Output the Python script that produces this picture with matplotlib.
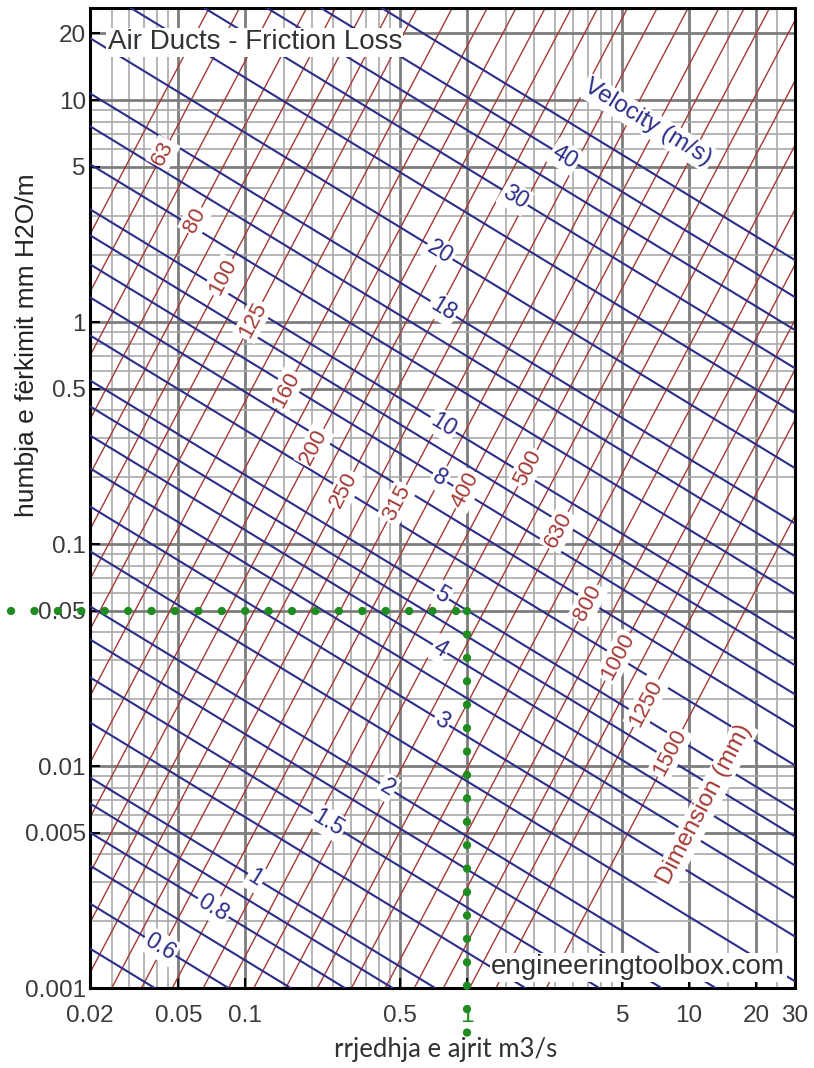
import numpy as np
import matplotlib.pyplot as plt
from matplotlib.ticker import FixedLocator, LogLocator, NullFormatter

plt.rcParams['font.family'] = ['Liberation Sans', 'DejaVu Sans']

# axis ranges (flow m3/s, loss mm H2O/m)
q_lim = (0.02, 30)
h_lim = (0.001, 26)

x_ticks = [0.02, 0.05, 0.1, 0.5, 1, 5, 10, 20, 30]
x_tick_labels = ['0.02', '0.05', '0.1', '0.5', '1', '5', '10', '20', '30']
y_ticks = [0.001, 0.005, 0.01, 0.05, 0.1, 0.5, 1, 5, 10, 20]
y_tick_labels = ['0.001', '0.005', '0.01', '0.05', '0.1', '0.5', '1', '5', '10', '20']

# duct dimension lines (red): flow at which each line crosses 1 mm/m
dim_slope = 1.9
dim_q_at_1 = [0.01239, 0.01698, 0.02404, 0.03404, 0.04592, 0.06209, 0.08147,
              0.1072, 0.1542, 0.2218, 0.2992, 0.4046, 0.5309, 0.6982, 0.9506,
              1.294, 1.782, 2.455, 3.192, 4.150, 5.781, 8.035, 11.43, 16.22,
              21.93, 29.65, 38.90, 51.17, 86.30]
dim_labels = ['63', '80', '100', '125', '160', '200', '250', '315', '400',
              '500', '630', '800', '1000', '1250', '1500']
dim_label_line = [1, 3, 5, 7, 9, 11, 13, 15, 17, 19, 21, 23, 25, 27, 28]
dim_label_h = [5.77, 2.88, 1.596, 1.021, 0.494, 0.2735, 0.175, 0.153, 0.175,
               0.22, 0.1156, 0.0542, 0.031, 0.0192, 0.01146]

# velocity lines (blue): loss at 1 m3/s for each line
vel_slope = -0.61
vel_h_at_1 = [1.384e-4, 2.208e-4, 3.273e-4, 4.613e-4, 6.237e-4, 8.166e-4,
              1.445e-3, 2.307e-3, 3.420e-3, 4.819e-3, 8.531e-3, 0.01358,
              0.02018, 0.02838, 0.03837, 0.05023, 0.08017, 0.1189, 0.1675,
              0.2265, 0.2965, 0.4732, 0.7015, 0.9863, 1.750, 3.097, 4.932,
              7.328, 10.31, 15.14]
vel_labels = ['0.6', '0.8', '1', '1.5', '2', '3', '4', '5', '8', '10', '18',
              '20', '30', '40']
vel_label_line = [1, 3, 5, 7, 9, 11, 13, 15, 18, 20, 23, 24, 26, 28]
vel_label_q = [0.0414, 0.0718, 0.111, 0.2366, 0.4365, 0.77, 0.755, 0.77,
               0.755, 0.78, 0.78, 0.755, 1.644, 2.76]

# example reading (green dotted)
read_q = 1
read_h = 0.05

red = '#a33a36'
blue = '#2b2d88'
green = '#1e8c1e'

fig = plt.figure(figsize=(8.14, 10.68), dpi=100)
ax = fig.add_axes([90 / 814, 80 / 1068, 705 / 814, 980 / 1068])
ax.set_xscale('log')
ax.set_yscale('log')
ax.set_xlim(*q_lim)
ax.set_ylim(*h_lim)

ax.xaxis.set_major_locator(FixedLocator(x_ticks))
ax.xaxis.set_ticklabels(x_tick_labels)
ax.yaxis.set_major_locator(FixedLocator(y_ticks))
ax.yaxis.set_ticklabels(y_tick_labels)
ax.xaxis.set_minor_locator(LogLocator(base=10, subs=np.arange(1, 10) * 0.5, numticks=40))
ax.yaxis.set_minor_locator(LogLocator(base=10, subs=np.arange(1, 10), numticks=40))
ax.xaxis.set_minor_formatter(NullFormatter())
ax.yaxis.set_minor_formatter(NullFormatter())

ax.grid(which='major', color='#7d7d7d', lw=2.0, zorder=0)
ax.grid(which='minor', color='#a9a9a9', lw=1.2, zorder=0)
ax.set_axisbelow(True)
ax.tick_params(which='major', direction='in', length=7, width=1.5,
               labelsize=17.5, labelcolor='#3a3a3a')
ax.tick_params(axis='x', pad=12)
ax.tick_params(axis='y', pad=3)
ax.tick_params(which='minor', length=0)
for s in ax.spines.values():
    s.set_linewidth(2.2)
    s.set_color('black')
for lab in ax.get_xticklabels():
    if lab.get_text() == '1':
        lab.set_color(green)

# screen angle for rotated labels
fig.canvas.draw()
def screen_angle(slope):
    p0 = ax.transData.transform((1, 1))
    p1 = ax.transData.transform((10, 10 ** slope))
    return np.degrees(np.arctan2(p1[1] - p0[1], p1[0] - p0[0]))

# red duct lines
hh = np.array([1e-4, 100])
for q1 in dim_q_at_1:
    ax.plot(q1 * hh ** (1 / dim_slope), hh, color=red, lw=1.0, zorder=2)

# blue velocity lines
qq = np.array([0.005, 100])
for h1 in vel_h_at_1:
    ax.plot(qq, h1 * qq ** vel_slope, color=blue, lw=1.5, zorder=3)

rot_d = screen_angle(dim_slope)
rot_v = screen_angle(vel_slope)
box = dict(facecolor='white', edgecolor='none', pad=1.5)

for txt, i, h in zip(dim_labels, dim_label_line, dim_label_h):
    q = dim_q_at_1[i] * h ** (1 / dim_slope)
    ax.text(q, h, txt, color=red, fontsize=16, rotation=rot_d,
            ha='center', va='center', rotation_mode='anchor', bbox=box, zorder=5)

for txt, i, q in zip(vel_labels, vel_label_line, vel_label_q):
    h = vel_h_at_1[i] * q ** vel_slope
    ax.text(q, h, txt, color=blue, fontsize=16.5, rotation=rot_v,
            ha='center', va='center', rotation_mode='anchor', bbox=box, zorder=5)

ax.text(6.5, 7.9, 'Velocity (m/s)', color=blue, fontsize=17.5, rotation=rot_v,
        ha='center', va='center', rotation_mode='anchor', bbox=box, zorder=5)
ax.text(11.8, 0.0067, 'Dimension (mm)', color=red, fontsize=17.5, rotation=rot_d,
        ha='center', va='center', rotation_mode='anchor', bbox=box, zorder=5)

ax.text(0.025, 0.965, 'Air Ducts - Friction Loss', transform=ax.transAxes,
        fontsize=20, color='#333333', ha='left', va='center',
        bbox=dict(facecolor='white', edgecolor='none', pad=1), zorder=6)
ax.text(0.986, 0.021, 'engineeringtoolbox.com', transform=ax.transAxes,
        fontsize=20, color='#333333', ha='right', va='center',
        bbox=dict(facecolor='white', edgecolor='none', pad=1), zorder=6)

# green dotted reading lines
dots = dict(color=green, lw=6, linestyle=(0, (0.01, 2.8)),
            dash_capstyle='round', clip_on=False, zorder=7)
ax.plot([0.0088, read_q], [read_h, read_h], **dots)
ax.plot([read_q, read_q], [read_h, 0.00060], **dots)

ax.set_xlabel('rrjedhja e ajrit m3/s', fontsize=18.5, color='#333333',
              family=['Lato', 'DejaVu Sans'])
ax.xaxis.set_label_coords(0.505, -0.05)
ax.set_ylabel('humbja e fërkimit mm H2O/m', fontsize=19, color='#222222')
ax.yaxis.set_label_coords(-0.072, 0.656)

fig.savefig('out.png', dpi=100)
